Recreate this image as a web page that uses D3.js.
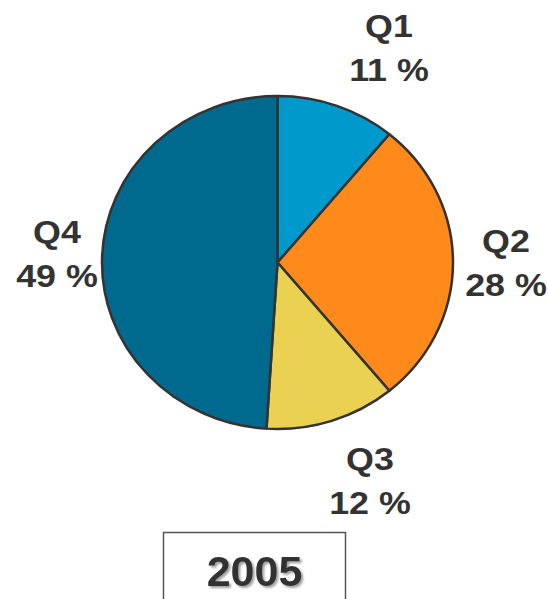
<!DOCTYPE html>
<html>
<head>
<meta charset="utf-8">
<script src="https://cdn.jsdelivr.net/npm/d3@7"></script>
<style>
  html, body { margin: 0; padding: 0; background: #fff; }
  svg { display: block; }
  text { font-family: "Liberation Sans", Arial, sans-serif; font-weight: bold; fill: #333; }
</style>
</head>
<body>
<svg id="chart" width="548" height="599"></svg>
<script>
// Quarterly shares for the year
const quarters = ["Q1", "Q2", "Q3", "Q4"];
const shares = [11, 28, 12, 49];
const colors = ["#0099cc", "#ff8a1c", "#ebd152", "#006a8e"];
const yearLabel = "2005";

const svg = d3.select("#chart");
const cx = 277.5, cy = 262.5, r = 166.5, stretchX = 1.054;

// Soft shadow for the year caption
const defs = svg.append("defs");
defs.append("filter").attr("id", "yearShadow")
  .attr("x", "-10%").attr("y", "-10%").attr("width", "130%").attr("height", "140%")
  .append("feDropShadow")
  .attr("dx", 2).attr("dy", 2).attr("stdDeviation", 1)
  .attr("flood-color", "#888").attr("flood-opacity", 0.8);

const pie = d3.pie().sort(null).value(d => d.value);
const arcs = pie(quarters.map((q, i) => ({ q, value: shares[i], color: colors[i] })));
const arc = d3.arc().innerRadius(0).outerRadius(r);

const g = svg.append("g").attr("transform", `translate(${cx},${cy}) scale(${stretchX},1)`);
g.selectAll("path").data(arcs).join("path")
  .attr("d", arc)
  .attr("fill", d => d.data.color)
  .attr("stroke", "#333")
  .attr("stroke-width", 2.4)
  .attr("stroke-linejoin", "round");

// Label anchors (centre x, name baseline)
const labelPos = [
  { x: 389, y: 37 },
  { x: 506, y: 252 },
  { x: 370, y: 470 },
  { x: 57, y: 243 }
];
const fs = 32, widen = 1.12;
arcs.forEach((d, i) => {
  const p = labelPos[i];
  const t = svg.append("g").attr("transform", `translate(${p.x},${p.y}) scale(${widen},1)`)
    .append("text").attr("text-anchor", "middle").attr("font-size", fs);
  t.append("tspan").attr("x", 0).attr("y", 0).text(d.data.q);
  t.append("tspan").attr("x", 0).attr("y", 44).text(d.data.value + " %");
});

// Year box
svg.append("rect")
  .attr("x", 163.5).attr("y", 532.5).attr("width", 182).attr("height", 80)
  .attr("fill", "none").attr("stroke", "#555").attr("stroke-width", 1.5);
svg.append("text")
  .attr("x", 254.5).attr("y", 586)
  .attr("text-anchor", "middle").attr("font-size", 43)
  .attr("filter", "url(#yearShadow)")
  .text(yearLabel);
</script>
</body>
</html>
